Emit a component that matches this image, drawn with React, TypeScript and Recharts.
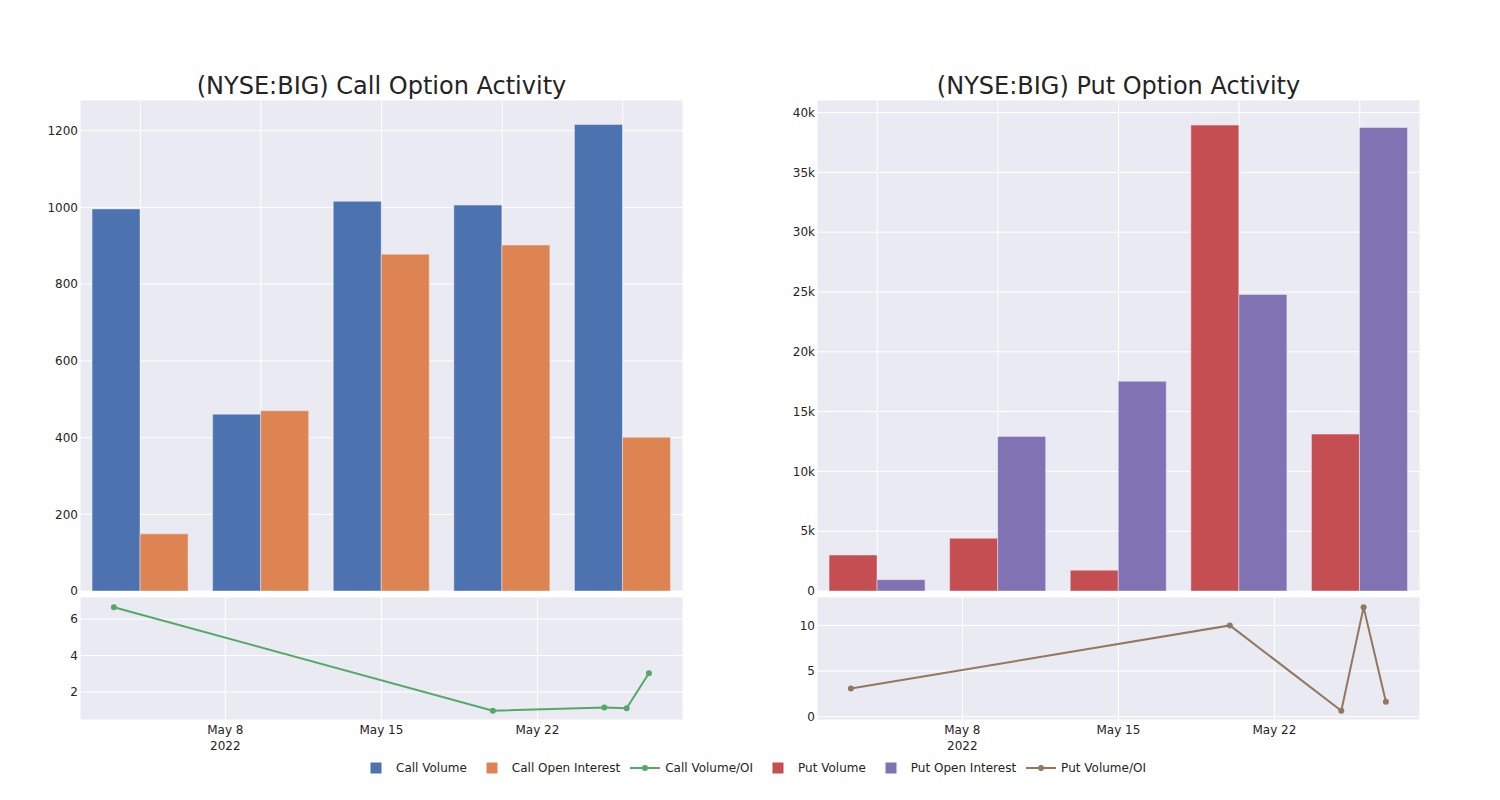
import React from "react";
import {
  BarChart,
  Bar,
  LineChart,
  Line,
  XAxis,
  YAxis,
  CartesianGrid,
} from "recharts";

// trade dates (also used as the hidden bar categories)
const dates = ["2022-05-03", "2022-05-20", "2022-05-25", "2022-05-26", "2022-05-27"];

const callVolume = [996, 461, 1016, 1006, 1216];
const callOpenInterest = [149, 470, 878, 902, 401];
const callVolumeOI = [6.65, 0.97, 1.15, 1.1, 3.03];

const putVolume = [3010, 4410, 1740, 38950, 13120];
const putOpenInterest = [950, 12920, 17530, 24790, 38750];
const putVolumeOI = [3.08, 10.0, 0.66, 11.98, 1.65];

const callBarTicks = [0, 200, 400, 600, 800, 1000, 1200];
const putBarTicks = [0, 5000, 10000, 15000, 20000, 25000, 30000, 35000, 40000];
const callRatioTicks = [2, 4, 6];
const putRatioTicks = [0, 5, 10];
const dateTicks = ["2022-05-08", "2022-05-15", "2022-05-22"];
const dateTickLabels = [["May 8", "2022"], ["May 15"], ["May 22"]];

const COLORS = {
  callVol: "#4C72B0",
  callOI: "#DD8452",
  callRatio: "#55A868",
  putVol: "#C44E52",
  putOI: "#8172B3",
  putRatio: "#937860",
};

const FONT = "'DejaVu Sans', sans-serif";
const TEXT = "#242424";
const PLOT_BG = "#EAEAF2";

const ts = (d: string) => Date.parse(d + "T00:00:00Z");
const xDomain = [Date.parse("2022-05-01T11:30:00Z"), Date.parse("2022-05-28T12:43:00Z")];

const callBars = dates.map((d, i) => ({
  name: d,
  volume: callVolume[i],
  oi: callOpenInterest[i],
}));
const putBars = dates.map((d, i) => ({
  name: d,
  volume: putVolume[i],
  oi: putOpenInterest[i],
}));
const callLine = dates.map((d, i) => ({ t: ts(d), v: callVolumeOI[i] }));
const putLine = dates.map((d, i) => ({ t: ts(d), v: putVolumeOI[i] }));

const tickStyle = { fill: TEXT, fontSize: 12, fontFamily: FONT };

function formatK(v: number): string {
  if (v === 0) return "0";
  return `${v / 1000}k`;
}

function DateTick(props: any) {
  const { x, y, payload } = props;
  const idx = dateTicks.findIndex((d) => ts(d) === payload.value);
  const lines = idx >= 0 ? dateTickLabels[idx] : [""];
  return (
    <g>
      {lines.map((l, i) => (
        <text
          key={i}
          x={x}
          y={y + 14 + i * 16}
          textAnchor="middle"
          fill={TEXT}
          fontSize={12}
          fontFamily={FONT}
        >
          {l}
        </text>
      ))}
    </g>
  );
}

const Y_W = 60;
const PLOT_W = 603;

function OptionBars({ data, left, volColor, oiColor, domain, ticks, fmt }: any) {
  return (
    <div style={{ position: "absolute", left: left - Y_W, top: 90 }}>
      <BarChart
        width={Y_W + PLOT_W}
        height={511}
        data={data}
        margin={{ top: 10, right: 0, bottom: 10, left: 0 }}
        barCategoryGap="10%"
        barGap={0}
      >
        <CartesianGrid fill={PLOT_BG} stroke="#ffffff" strokeWidth={1} />
        <XAxis dataKey="name" hide />
        <YAxis
          width={Y_W}
          domain={domain}
          ticks={ticks}
          allowDataOverflow
          axisLine={false}
          tickLine={false}
          tickSize={0}
          tickMargin={2}
          tick={tickStyle}
          tickFormatter={fmt}
        />
        <Bar dataKey="volume" fill={volColor} stroke={PLOT_BG} strokeWidth={0.5} isAnimationActive={false} />
        <Bar dataKey="oi" fill={oiColor} stroke={PLOT_BG} strokeWidth={0.5} isAnimationActive={false} />
      </BarChart>
    </div>
  );
}

function RatioLine({ data, left, color, domain, ticks }: any) {
  return (
    <div style={{ position: "absolute", left: left - Y_W, top: 587 }}>
      <LineChart
        width={Y_W + PLOT_W}
        height={173}
        data={data}
        margin={{ top: 10, right: 0, bottom: 0, left: 0 }}
      >
        <CartesianGrid fill={PLOT_BG} stroke="#ffffff" strokeWidth={1} />
        <XAxis
          dataKey="t"
          type="number"
          domain={xDomain}
          ticks={dateTicks.map(ts)}
          allowDataOverflow
          height={40}
          axisLine={false}
          tickLine={false}
          tickSize={0}
          tickMargin={0}
          tick={<DateTick />}
        />
        <YAxis
          width={Y_W}
          type="number"
          domain={domain}
          ticks={ticks}
          allowDataOverflow
          axisLine={false}
          tickLine={false}
          tickSize={0}
          tickMargin={2}
          tick={tickStyle}
        />
        <Line
          type="linear"
          dataKey="v"
          stroke={color}
          strokeWidth={2}
          dot={{ r: 3, fill: color, stroke: color, strokeWidth: 0 }}
          isAnimationActive={false}
        />
      </LineChart>
    </div>
  );
}

const legendItems = [
  { label: "Call Volume", color: COLORS.callVol, kind: "bar" },
  { label: "Call Open Interest", color: COLORS.callOI, kind: "bar" },
  { label: "Call Volume/OI", color: COLORS.callRatio, kind: "line" },
  { label: "Put Volume", color: COLORS.putVol, kind: "bar" },
  { label: "Put Open Interest", color: COLORS.putOI, kind: "bar" },
  { label: "Put Volume/OI", color: COLORS.putRatio, kind: "line" },
];

function Legend() {
  return (
    <div
      style={{
        position: "absolute",
        left: 356,
        top: 758,
        display: "flex",
        height: 20,
        lineHeight: "20px",
        fontSize: 12,
        fontFamily: FONT,
        color: TEXT,
        whiteSpace: "nowrap",
      }}
    >
      {legendItems.map((it) => (
        <div key={it.label} style={{ display: "flex", alignItems: "center", marginRight: 5 }}>
          <svg width={40} height={20}>
            {it.kind === "bar" ? (
              <rect x={14.5} y={4.5} width={11} height={11} fill={it.color} />
            ) : (
              <g>
                <line x1={5} y1={10} x2={35} y2={10} stroke={it.color} strokeWidth={2} />
                <circle cx={20} cy={10} r={3} fill={it.color} />
              </g>
            )}
          </svg>
          <span>{it.label}</span>
        </div>
      ))}
    </div>
  );
}

export default function App() {
  return (
    <div
      style={{
        position: "absolute",
        left: 0,
        top: 0,
        width: 1500,
        height: 800,
        background: "#ffffff",
        fontFamily: FONT,
      }}
    >
      <svg width={1500} height={110} style={{ position: "absolute", left: 0, top: 0 }}>
        <text x={381.5} y={94.3} textAnchor="middle" fontSize={24} fontFamily={FONT} fill={TEXT}>
          (NYSE:BIG) Call Option Activity
        </text>
        <text x={1118.5} y={94.3} textAnchor="middle" fontSize={24} fontFamily={FONT} fill={TEXT}>
          (NYSE:BIG) Put Option Activity
        </text>
      </svg>
      <OptionBars
        data={callBars}
        left={80}
        volColor={COLORS.callVol}
        oiColor={COLORS.callOI}
        domain={[0, 1280]}
        ticks={callBarTicks}
      />
      <OptionBars
        data={putBars}
        left={817}
        volColor={COLORS.putVol}
        oiColor={COLORS.putOI}
        domain={[0, 41050]}
        ticks={putBarTicks}
        fmt={formatK}
      />
      <RatioLine data={callLine} left={80} color={COLORS.callRatio} domain={[0.46, 7.21]} ticks={callRatioTicks} />
      <RatioLine data={putLine} left={817} color={COLORS.putRatio} domain={[-0.36, 13.11]} ticks={putRatioTicks} />
      <Legend />
    </div>
  );
}
